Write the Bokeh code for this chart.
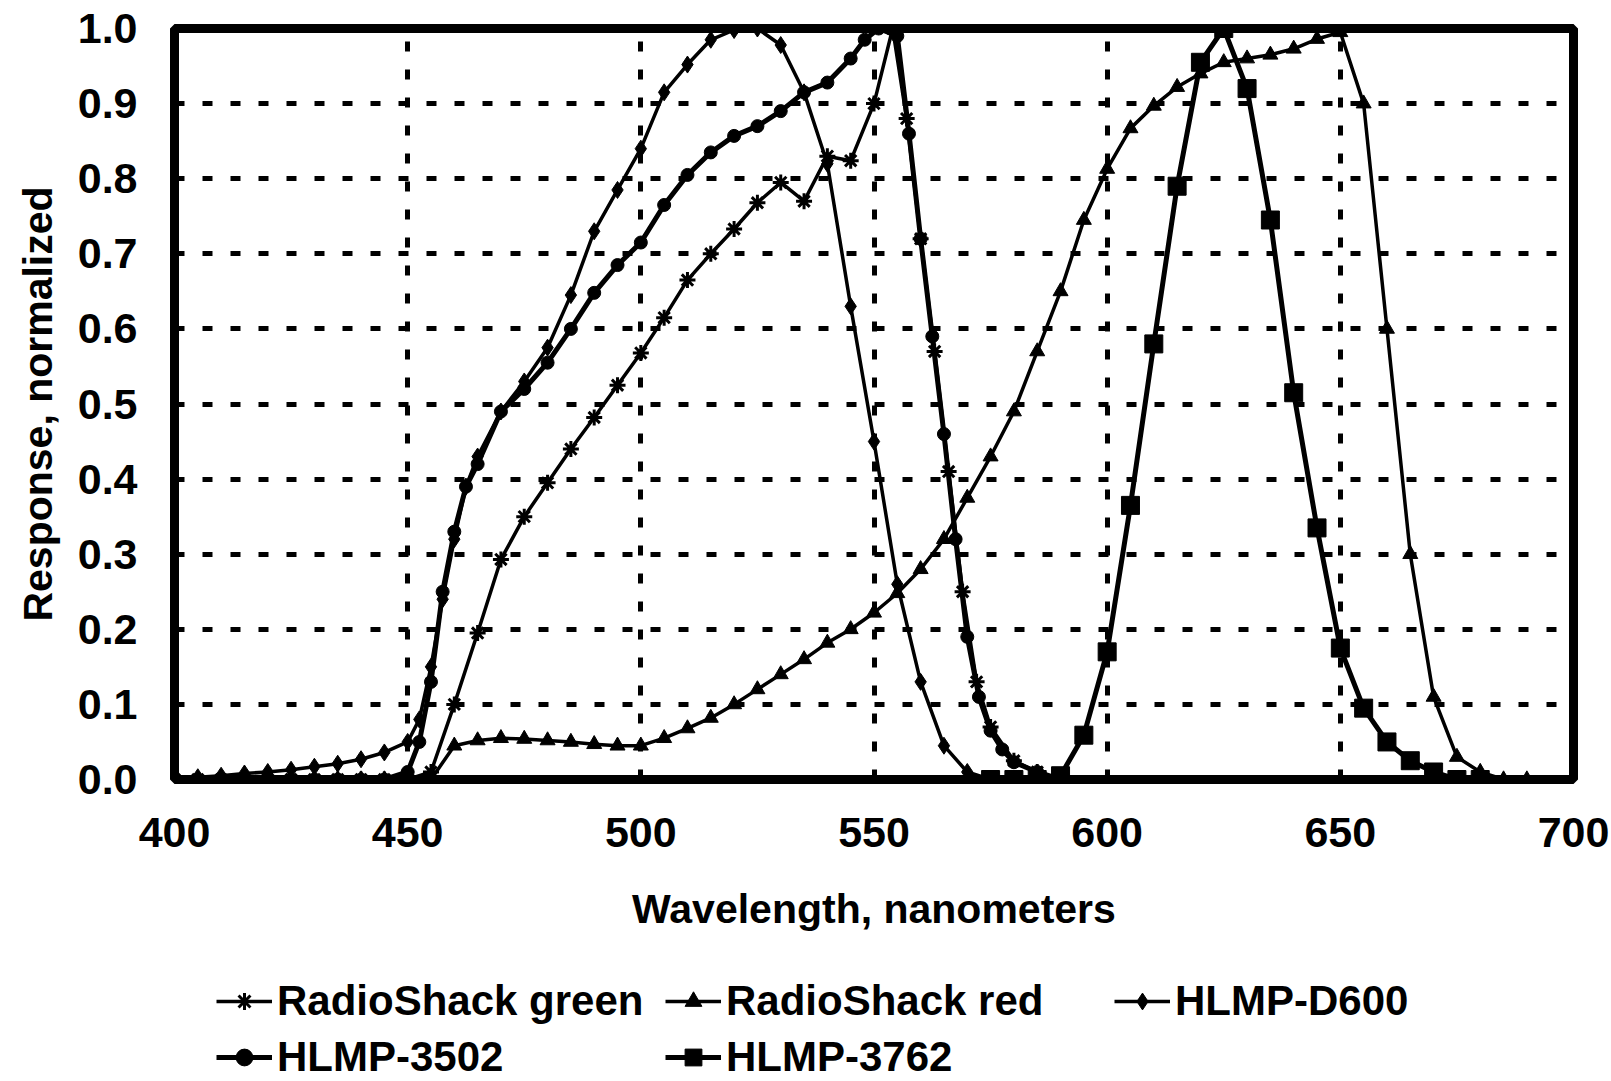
from bokeh.plotting import figure
from bokeh.layouts import column
from bokeh.models import (Range1d, FixedTicker, NumeralTickFormatter, Legend, LegendItem,
                          ColumnDataSource)
from bokeh.embed import file_html
from bokeh.resources import INLINE

# ---------------- data ----------------
rs_green_wl = [400, 405, 410, 415, 420, 425, 430, 435, 440, 445, 450, 455, 460, 465, 470, 475,
               480, 485, 490, 495, 500, 505, 510, 515, 520, 525, 530, 535, 540, 545, 550, 554,
               557, 560, 563, 566, 569, 572, 575, 580, 585, 590]
rs_green = [0, 0, 0, 0, 0, 0, 0, 0, 0, 0, 0, 0.01, 0.10, 0.195, 0.293, 0.35,
            0.395, 0.44, 0.482, 0.525, 0.568, 0.615, 0.665, 0.70, 0.733, 0.768, 0.795, 0.77,
            0.83, 0.824, 0.90, 1.0, 0.88, 0.72, 0.57, 0.41, 0.25, 0.13, 0.07, 0.025, 0.01, 0.0]

rs_red_wl = [400, 405, 410, 415, 420, 425, 430, 435, 440, 445, 450, 455, 460, 465, 470, 475,
             480, 485, 490, 495, 500, 505, 510, 515, 520, 525, 530, 535, 540, 545, 550, 555,
             560, 565, 570, 575, 580, 585, 590, 595, 600, 605, 610, 615, 620, 625, 630, 635,
             640, 645, 650, 655, 660, 665, 670, 675, 680, 685, 690]
rs_red = [0, 0, 0, 0, 0, 0, 0, 0, 0, 0, 0, 0, 0.045, 0.052, 0.055, 0.054,
          0.052, 0.05, 0.047, 0.045, 0.045, 0.055, 0.068, 0.082, 0.10, 0.12, 0.14, 0.16,
          0.182, 0.20, 0.222, 0.248, 0.28, 0.32, 0.375, 0.43, 0.49, 0.57, 0.65, 0.745,
          0.813, 0.867, 0.897, 0.922, 0.94, 0.955, 0.96, 0.965, 0.973, 0.986, 0.995, 0.90,
          0.60, 0.30, 0.11, 0.03, 0.01, 0.0, 0.0]

d600_wl = [400, 405, 410, 415, 420, 425, 430, 435, 440, 445, 450, 452.5, 455, 457.5, 460,
           462.5, 465, 470, 475, 480, 485, 490, 495, 500, 505, 510, 515, 520, 525, 530, 535,
           540, 545, 550, 555, 560, 565, 570, 575, 580]
d600 = [0.0, 0.003, 0.005, 0.008, 0.01, 0.013, 0.017, 0.021, 0.027, 0.036, 0.05, 0.08, 0.15,
        0.24, 0.32, 0.39, 0.43, 0.49, 0.53, 0.575, 0.645, 0.73, 0.785, 0.84, 0.915, 0.952,
        0.985, 0.998, 1.0, 0.978, 0.915, 0.82, 0.63, 0.45, 0.26, 0.13, 0.045, 0.01, 0.0, 0.0]

h3502_wl = [400, 405, 410, 415, 420, 425, 430, 435, 440, 445, 450, 452.5, 455, 457.5, 460,
            462.5, 465, 470, 475, 480, 485, 490, 495, 500, 505, 510, 515, 520, 525, 530, 535,
            540, 545, 548, 551, 555, 557.5, 560, 562.5, 565, 567.5, 570, 572.5, 575, 577.5,
            580, 585, 590]
h3502 = [0, 0, 0, 0, 0, 0, 0, 0, 0, 0, 0.01, 0.05, 0.13, 0.25, 0.33, 0.39, 0.42, 0.49, 0.52,
         0.555, 0.60, 0.648, 0.685, 0.715, 0.765, 0.805, 0.835, 0.857, 0.87, 0.89, 0.915,
         0.928, 0.96, 0.985, 1.0, 0.99, 0.86, 0.72, 0.59, 0.46, 0.32, 0.19, 0.11, 0.065, 0.04,
         0.023, 0.01, 0.0]

h3762_wl = [575, 580, 585, 590, 595, 600, 605, 610, 615, 620, 625, 630, 635, 640, 645, 650,
            655, 660, 665, 670, 675, 680]
h3762 = [0.0, 0.0, 0.0, 0.005, 0.059, 0.17, 0.365, 0.58, 0.79, 0.955, 1.0, 0.92, 0.745,
         0.515, 0.335, 0.175, 0.095, 0.05, 0.025, 0.01, 0.0, 0.0]

series_names = ["RadioShack green", "RadioShack red", "HLMP-D600", "HLMP-3502", "HLMP-3762"]

x_ticks = [400, 450, 500, 550, 600, 650, 700]
y_ticks = [0.0, 0.1, 0.2, 0.3, 0.4, 0.5, 0.6, 0.7, 0.8, 0.9, 1.0]

FONT = "Liberation Sans"

sources = [
    ColumnDataSource(dict(x=rs_green_wl, y=rs_green)),
    ColumnDataSource(dict(x=rs_red_wl, y=rs_red)),
    ColumnDataSource(dict(x=d600_wl, y=d600)),
    ColumnDataSource(dict(x=h3502_wl, y=h3502)),
    ColumnDataSource(dict(x=h3762_wl, y=h3762)),
]
styles = [
    dict(lw=3.5, marker="asterisk", size=16, mlw=3),
    dict(lw=3.5, marker="triangle", size=15, mlw=1),
    dict(lw=3.5, marker="diamond", size=17, mlw=1),
    dict(lw=5, marker="circle", size=13, mlw=1),
    dict(lw=5, marker="square", size=18, mlw=1),
]


def draw_series(fig):
    out = []
    for src, st in zip(sources, styles):
        ln = fig.line("x", "y", source=src, line_color="black", line_width=st["lw"])
        sc = fig.scatter("x", "y", source=src, marker=st["marker"], size=st["size"],
                         fill_color="black", line_color="black", line_width=st["mlw"])
        out.append((ln, sc))
    return out


# ---------------- main chart ----------------
p = figure(frame_width=1399, frame_height=751,
           min_border_left=174, min_border_right=38, min_border_top=28, min_border_bottom=172,
           x_range=Range1d(400, 700), y_range=Range1d(0, 1),
           output_backend="svg", toolbar_location=None)

p.background_fill_color = "white"
p.border_fill_color = "white"
p.outline_line_color = "black"
p.outline_line_width = 9

for ax in (p.xaxis[0], p.yaxis[0]):
    ax.axis_line_color = None
    ax.major_tick_line_color = None
    ax.minor_tick_line_color = None
    ax.major_tick_out = 0
    ax.major_tick_in = 0
    ax.major_label_text_font = FONT
    ax.major_label_text_font_style = "bold"
    ax.major_label_text_font_size = "43px"
    ax.major_label_text_color = "black"
    ax.axis_label_text_font = FONT
    ax.axis_label_text_font_style = "bold"
    ax.axis_label_text_font_size = "41px"
    ax.axis_label_text_color = "black"

p.xaxis.ticker = FixedTicker(ticks=x_ticks)
p.yaxis.ticker = FixedTicker(ticks=y_ticks)
p.yaxis.formatter = NumeralTickFormatter(format="0.0")
p.xaxis.axis_label = "Wavelength, nanometers"
p.yaxis.axis_label = "Response, normalized"
p.xaxis.major_label_standoff = 38
p.yaxis.major_label_standoff = 37
p.xaxis.axis_label_standoff = 36
p.yaxis.axis_label_standoff = 14

for g in (p.xgrid[0], p.ygrid[0]):
    g.grid_line_color = "black"
    g.grid_line_width = 5
    g.grid_line_dash = "10 18"

draw_series(p)

# ---------------- legend strip (same series, drawn outside its view) ----------------
pl = figure(frame_width=1611, frame_height=130, min_border=0,
            x_range=Range1d(1000, 1001), y_range=Range1d(0, 1),
            x_axis_type=None, y_axis_type=None,
            output_backend="svg", toolbar_location=None)
pl.outline_line_color = None
pl.background_fill_color = "white"
pl.border_fill_color = "white"
leg_rs = draw_series(pl)

legend = Legend(items=[LegendItem(label=name, renderers=[ln, sc])
                       for name, (ln, sc) in zip(series_names, leg_rs)],
                location=(216, 0), orientation="horizontal", ncols=3)
legend.border_line_color = None
legend.background_fill_alpha = 0
legend.padding = 0
legend.margin = 0
legend.spacing = 8
legend.glyph_width = 56
legend.glyph_height = 42
legend.label_standoff = 5
legend.label_width = 380
legend.label_text_font = FONT
legend.label_text_font_style = "bold"
legend.label_text_font_size = "42px"
legend.label_text_color = "black"
pl.add_layout(legend)

layout = column(p, pl, spacing=0)
open("out.html", "w").write(file_html(layout, INLINE))
